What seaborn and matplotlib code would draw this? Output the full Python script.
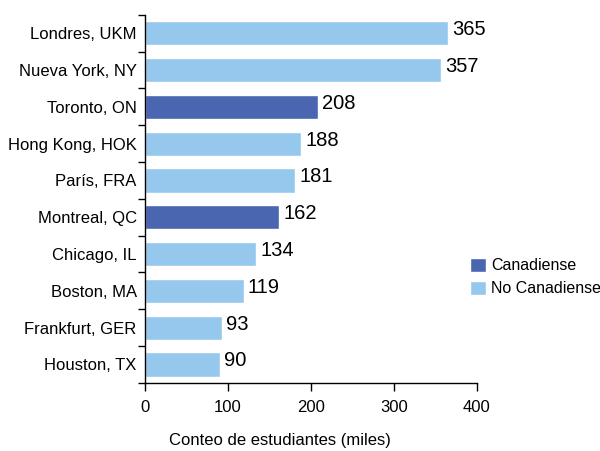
import numpy as np
import pandas as pd
import matplotlib
matplotlib.use("Agg")
import matplotlib.pyplot as plt
import seaborn as sns

cities = ["Londres, UKM", "Nueva York, NY", "Toronto, ON", "Hong Kong, HOK", "París, FRA",
          "Montreal, QC", "Chicago, IL", "Boston, MA", "Frankfurt, GER", "Houston, TX"]
counts = [365, 357, 208, 188, 181, 162, 134, 119, 93, 90]
groups = ["No Canadiense", "No Canadiense", "Canadiense", "No Canadiense", "No Canadiense",
          "Canadiense", "No Canadiense", "No Canadiense", "No Canadiense", "No Canadiense"]

df = pd.DataFrame({"city": cities, "count": counts, "group": groups})

sns.set_style("white", {"text.color": "black", "axes.labelcolor": "black",
                        "xtick.color": "black", "ytick.color": "black"})
plt.rcParams["font.family"] = ["Liberation Sans", "DejaVu Sans"]

fig = plt.figure(figsize=(6, 4.51), dpi=100)
ax = fig.add_axes([0.2417, 0.151, 0.553, 0.816])

palette = {"Canadiense": "#4a66b0", "No Canadiense": "#96c8ee"}
sns.barplot(data=df, x="count", y="city", hue="group", hue_order=["Canadiense", "No Canadiense"],
            palette=palette, dodge=False, width=0.66, saturation=1, ax=ax)

# value labels to the right of each bar
for i, v in enumerate(counts):
    ax.text(v + 5, i - 0.1, str(v), va="center", ha="left", fontsize=14.5, color="black")

ax.set_xlim(0, 400)
ax.set_ylim(len(cities) - 0.5, -0.5)
ax.set_xticks([0, 100, 200, 300, 400])
ax.tick_params(axis="x", direction="out", length=6, width=1, labelsize=12, pad=6, bottom=True)
ax.tick_params(axis="y", which="major", length=0, labelsize=12, pad=6)
# tick marks sit between the categories
ax.set_yticks(np.arange(-0.5, len(cities), 1), minor=True)
ax.tick_params(axis="y", which="minor", direction="out", length=5, width=1, left=True)

for s in ["top", "right"]:
    ax.spines[s].set_visible(False)
for s in ["left", "bottom"]:
    ax.spines[s].set_color("black")
    ax.spines[s].set_linewidth(1)

ax.set_xlabel("Conteo de estudiantes (miles)", fontsize=12, labelpad=14)
ax.xaxis.set_label_coords(0.407, -0.135)
ax.set_ylabel("")

ax.legend(loc="upper left", bbox_to_anchor=(0.98, 0.34), frameon=False, fontsize=11.5,
          handlelength=1.0, handleheight=1.0, handletextpad=0.3, labelspacing=0.45,
          borderaxespad=0, borderpad=0)

fig.savefig("out.png", dpi=100)
